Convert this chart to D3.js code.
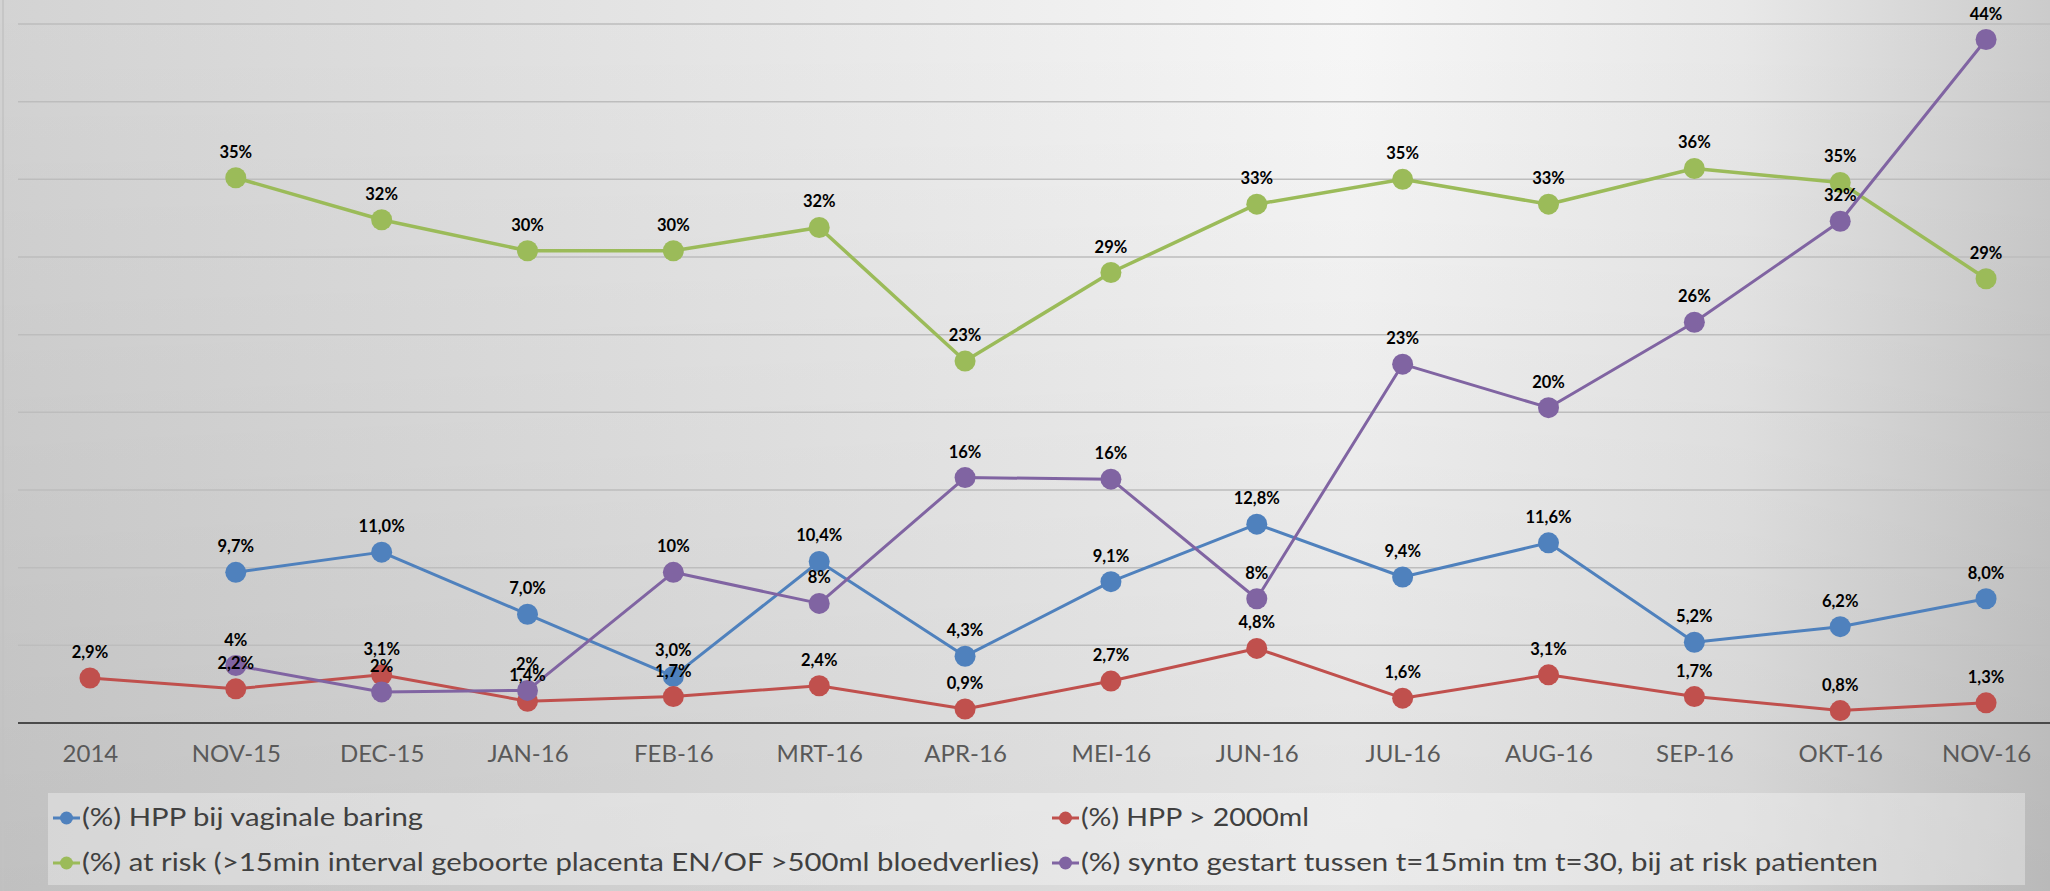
<!DOCTYPE html>
<html>
<head>
<meta charset="utf-8">
<script src="https://cdn.jsdelivr.net/npm/d3@7"></script>
<style>
  html, body { margin: 0; padding: 0; background: #d0d0d0; }
  svg { display: block; }
</style>
</head>
<body>
<svg id="chart"></svg>
<script>
const categories = ['2014', 'NOV-15', 'DEC-15', 'JAN-16', 'FEB-16', 'MRT-16', 'APR-16',
  'MEI-16', 'JUN-16', 'JUL-16', 'AUG-16', 'SEP-16', 'OKT-16', 'NOV-16'];

const hppVaginal = [null, 9.7, 11.0, 7.0, 3.0, 10.4, 4.3, 9.1, 12.8, 9.4, 11.6, 5.2, 6.2, 8.0];
const hpp2000    = [2.9, 2.2, 3.1, 1.4, 1.7, 2.4, 0.9, 2.7, 4.8, 1.6, 3.1, 1.7, 0.8, 1.3];
const atRisk     = [null, 35.1, 32.4, 30.4, 30.4, 31.9, 23.3, 29.0, 33.4, 35.0, 33.4, 35.7, 34.8, 28.6];
const synto      = [null, 3.7, 2.0, 2.1, 9.7, 7.7, 15.8, 15.7, 8.0, 23.1, 20.3, 25.8, 32.3, 44.0];

const yTicks = [0, 5, 10, 15, 20, 25, 30, 35, 40, 45];

const fmt1 = v => v.toFixed(1).replace('.', ',') + '%';
const fmt0 = v => Math.round(v) + '%';

// drawing order = legend order (blue, red, green, purple)
const series = [
  { name: '(%) HPP bij vaginale baring', values: hppVaginal, color: '#4f81bd', width: 3, fmt: fmt1 },
  { name: '(%) HPP > 2000ml', values: hpp2000, color: '#c0504d', width: 3, fmt: fmt1 },
  { name: '(%) at risk (>15min interval geboorte placenta EN/OF >500ml bloedverlies)', values: atRisk, color: '#9bbb59', width: 3.5, fmt: fmt0 },
  { name: '(%) synto gestart tussen t=15min tm t=30, bij at risk patienten', values: synto, color: '#8064a2', width: 3, fmt: fmt0 },
];

const W = 2050, H = 891;
const plot = { left: 17, right: 2059, top: 24, bottom: 723 };
const R = 10.5;
const FONT = 'Lato, "Open Sans", sans-serif';

const svg = d3.select('#chart').attr('width', W).attr('height', H);
const defs = svg.append('defs');

// background: light in the upper middle-right, grey towards the edges
const hGrad = defs.append('linearGradient').attr('id', 'bg-h')
  .attr('x1', 0).attr('x2', 1).attr('y1', 0).attr('y2', 0);
[[0, '#d3d3d3'], [0.35, '#e6e6e6'], [0.66, '#f7f7f7'], [0.85, '#e8e8e8'], [1, '#cbcbcb']]
  .forEach(([o, c]) => hGrad.append('stop').attr('offset', o).attr('stop-color', c));
const vGrad = defs.append('linearGradient').attr('id', 'bg-v')
  .attr('x1', 0).attr('x2', 0).attr('y1', 0).attr('y2', 1);
vGrad.append('stop').attr('offset', 0).attr('stop-color', '#000').attr('stop-opacity', 0);
vGrad.append('stop').attr('offset', 1).attr('stop-color', '#000').attr('stop-opacity', 0.09);

svg.append('rect').attr('width', W).attr('height', H).attr('fill', 'url(#bg-h)');
svg.append('rect').attr('width', W).attr('height', H).attr('fill', 'url(#bg-v)');
svg.append('line').attr('x1', 3).attr('x2', 3).attr('y1', 0).attr('y2', H)
  .attr('stroke', '#c2c2c2').attr('stroke-width', 1.5);

const x = d3.scalePoint().domain(categories).range([plot.left, plot.right]).padding(0.5);
const y = d3.scaleLinear().domain([0, 45]).range([plot.bottom, plot.top]);

// gridlines
svg.append('g').selectAll('line').data(yTicks.slice(1)).enter().append('line')
  .attr('x1', plot.left + 1).attr('x2', W)
  .attr('y1', d => y(d)).attr('y2', d => y(d))
  .attr('stroke', '#bdbdbd').attr('stroke-width', 1.5);

// category axis
const xAxis = svg.append('g')
  .attr('transform', `translate(0,${plot.bottom})`)
  .call(d3.axisBottom(x).tickSize(0).tickPadding(22));
xAxis.select('.domain').attr('d', `M${plot.left + 1},0H${W}`)
  .attr('stroke', '#4a4a4a').attr('stroke-width', 2.2);
xAxis.selectAll('text')
  .attr('font-family', FONT).attr('font-size', 24).attr('fill', '#595959');

const line = d3.line()
  .defined(d => d.v != null)
  .x(d => x(d.c)).y(d => y(d.v));

const seriesPts = series.map(s => categories.map((c, i) => ({ c, v: s.values[i], s })));

// lines + markers, one series at a time
seriesPts.forEach((pts, k) => {
  const s = series[k];
  const g = svg.append('g');
  g.append('path').datum(pts).attr('d', line)
    .attr('fill', 'none').attr('stroke', s.color).attr('stroke-width', s.width)
    .attr('stroke-linejoin', 'round');
  g.selectAll('circle').data(pts.filter(d => d.v != null)).enter().append('circle')
    .attr('cx', d => x(d.c)).attr('cy', d => y(d.v)).attr('r', R)
    .attr('fill', s.color);
});

// data labels on top of everything
const labels = svg.append('g');
seriesPts.forEach(pts => {
  labels.selectAll(null).data(pts.filter(d => d.v != null)).enter().append('text')
    .attr('x', d => x(d.c)).attr('y', d => y(d.v) - 20)
    .attr('text-anchor', 'middle')
    .attr('font-family', FONT).attr('font-weight', 700).attr('font-size', 16.5)
    .attr('fill', '#000')
    .text(d => d.s.fmt(d.v));
});

// legend
const legend = svg.append('g');
legend.append('rect').attr('x', 48).attr('y', 793).attr('width', 1977).attr('height', 92)
  .attr('fill', '#fff').attr('fill-opacity', 0.33);
const legendPos = [[53, 818], [1052, 818], [53, 863], [1052, 863]];
const legendWidths = [341, 228, 957, 797];
series.forEach((s, k) => {
  const [lx, ly] = legendPos[k];
  const item = legend.append('g').attr('transform', `translate(${lx},${ly})`);
  item.append('line').attr('x1', 0).attr('x2', 27)
    .attr('stroke', s.color).attr('stroke-width', 3);
  item.append('circle').attr('cx', 13.5).attr('r', 6.5).attr('fill', s.color);
  item.append('text').attr('x', 29).attr('y', 8)
    .attr('font-family', FONT).attr('font-size', 25.5).attr('fill', '#404040')
    .attr('textLength', legendWidths[k]).attr('lengthAdjust', 'spacingAndGlyphs')
    .text(s.name);
});
</script>
</body>
</html>
